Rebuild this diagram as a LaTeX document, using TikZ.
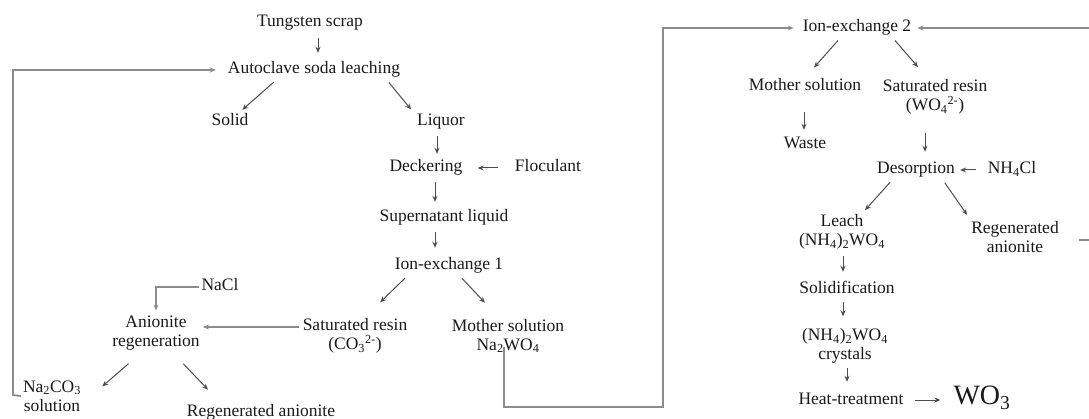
\documentclass[tikz,border=0pt]{standalone}
\usepackage{fontspec}
\setmainfont{Liberation Serif}
\usetikzlibrary{arrows.meta}
\definecolor{txt}{HTML}{1A1A1A}
\definecolor{ln}{HTML}{4D4D4D}
\definecolor{fb}{HTML}{8C8C8C}
\begin{document}
\begin{tikzpicture}[x=1pt,y=-1pt,
  lbl/.style={font=\fontsize{17.5}{19}\selectfont, text=txt, inner sep=2pt, text height=12pt, text depth=4pt},
  lbltwo/.style={font=\fontsize{17.5}{19}\selectfont, text=txt, inner sep=2pt, align=center},
  arr/.style={draw=ln, line width=1pt, -{Stealth[length=6pt,width=5pt]}, shorten <=3pt, shorten >=3pt},
  feed/.style={draw=fb, line width=1.8pt, -{Stealth[length=6pt,width=5pt]}}]
\fill[white] (0,0) rectangle (1089,419);
\useasboundingbox (0,0) rectangle (1089,419);

% ---- left chain ----
\node[lbl] (tung) at (310,23) {Tungsten scrap};
\node[lbl] (auto) at (314,70) {Autoclave soda leaching};
\node[lbl] (solid) at (230,122) {Solid};
\node[lbl] (liquor) at (441,122) {Liquor};
\node[lbl] (deck) at (426,168) {Deckering};
\node[lbl] (floc) at (548,168) {Floculant};
\node[lbl] (super) at (444,218) {Supernatant liquid};
\node[lbl] (ion1) at (449,266) {Ion-exchange 1};
\node[lbltwo] (satr) at (355,336) {Saturated resin\\(CO\textsubscript{3}\textsuperscript{2-})};
\node[lbltwo] (moth) at (508,336) {Mother solution\\Na\textsubscript{2}WO\textsubscript{4}};
\node[lbltwo] (anreg) at (156,333) {Anionite\\regeneration};
\node[lbl] (nacl) at (220,287) {NaCl};
\node[lbltwo] (naco) at (52,396) {Na\textsubscript{2}CO\textsubscript{3}\\solution};
\node[lbl] (regan1) at (261,412) {Regenerated anionite};

% ---- right chain ----
\node[lbl] (ion2) at (857,28) {Ion-exchange 2};
\node[lbl] (moth2) at (805,87) {Mother solution};
\node[lbl] (waste) at (805,145) {Waste};
\node[lbltwo] (satr2) at (935,97) {Saturated resin\\(WO\textsubscript{4}\textsuperscript{2-})};
\node[lbl] (desorp) at (916,170) {Desorption};
\node[lbl] (nh4cl) at (1012,170) {NH\textsubscript{4}Cl};
\node[lbltwo] (leach) at (842,232) {Leach\\(NH\textsubscript{4})\textsubscript{2}WO\textsubscript{4}};
\node[lbltwo] (regan2) at (1015,237) {Regenerated\\anionite};
\node[lbl] (solid2) at (847,290) {Solidification};
\node[lbltwo] (cryst) at (845,346) {(NH\textsubscript{4})\textsubscript{2}WO\textsubscript{4}\\crystals};
\node[lbl] (heat) at (851,400) {Heat-treatment};
\node[font=\fontsize{28}{30}\selectfont, text=txt, inner sep=2pt] (wo3) at (982,398) {WO\textsubscript{3}};

\coordinate (lc) at (13,395);
\coordinate (bc) at (663,407);
\coordinate (rc) at (1096,240);

% ---- short arrows, left ----
\draw[arr, shorten <=5pt, shorten >=7pt] ([xshift=8]tung.south) -- ([xshift=4]auto.north);
\draw[arr] ([xshift=-38]auto.south) -- ([xshift=10]solid.north);
\draw[arr] ([xshift=73]auto.south) -- ([xshift=-28]liquor.north);
\draw[arr, shorten <=4pt, shorten >=4pt] ([xshift=-4]liquor.south) -- ([xshift=11]deck.north);
\draw[arr, shorten <=15pt, shorten >=13pt] (floc.west) -- (deck.east);
\draw[arr, shorten <=4pt, shorten >=6pt] ([xshift=9]deck.south) -- ([xshift=-9]super.north);
\draw[arr, shorten <=4pt, shorten >=8pt] ([xshift=-9]super.south) -- ([xshift=-14]ion1.north);
\draw[arr] ([xshift=-42]ion1.south) -- ([xshift=23,yshift=12]satr.north);
\draw[arr] ([xshift=11]ion1.south) -- ([xshift=-21,yshift=12]moth.north);
\draw[arr, shorten <=2pt] ([xshift=-26,yshift=-10]anreg.south) -- ([xshift=48,yshift=-10]naco.north);
\draw[arr, shorten <=2pt] ([xshift=26,yshift=-10]anreg.south) -- ([xshift=-51,yshift=10]regan1.north);

% ---- short arrows, right ----
\draw[arr] ([xshift=-17]ion2.south) -- ([xshift=7,yshift=7]moth2.north);
\draw[arr] ([xshift=36]ion2.south) -- ([xshift=-15,yshift=8]satr2.north);
\draw[arr, shorten <=15pt, shorten >=5pt] ([xshift=-1]moth2.south) -- ([xshift=-1]waste.north);
\draw[arr, shorten <=16pt, shorten >=8pt] ([xshift=-10]satr2.south) -- ([xshift=9]desorp.north);
\draw[arr, shorten <=10pt, shorten >=3pt] (nh4cl.west) -- (desorp.east);
\draw[arr] ([xshift=-24]desorp.south) -- ([xshift=21]leach.north);
\draw[arr, shorten >=5pt] ([xshift=27]desorp.south) -- ([xshift=-45]regan2.north);
\draw[arr, shorten <=4pt, shorten >=8pt] ([xshift=1]leach.south) -- ([xshift=-4]solid2.north);
\draw[arr, shorten <=2pt, shorten >=10pt] ([xshift=-4]solid2.south) -- ([xshift=-2]cryst.north);
\draw[arr, shorten <=2pt, shorten >=8pt] ([xshift=2]cryst.south) -- ([xshift=-4]heat.north);
\draw[arr, shorten <=9pt, shorten >=11pt] (heat.east) -- (wo3.west |- heat.east);

% ---- recycle lines ----
\draw[feed, shorten >=10pt] (naco.west) -- (lc) |- (auto.west);
\draw[feed, shorten >=3pt] (nacl.west) -| (anreg.north);
\draw[feed, shorten <=2pt, shorten >=1pt] ([yshift=9]satr.west) -- ([yshift=9]satr.west -| anreg.east);
\draw[feed, shorten >=7pt] ([xshift=-4,yshift=8]moth.south) |- (bc) |- (ion2.west);
\draw[feed, shorten >=4pt] ([xshift=18,yshift=-3]regan2.east) -- (rc) |- (ion2.east);
\end{tikzpicture}
\end{document}
